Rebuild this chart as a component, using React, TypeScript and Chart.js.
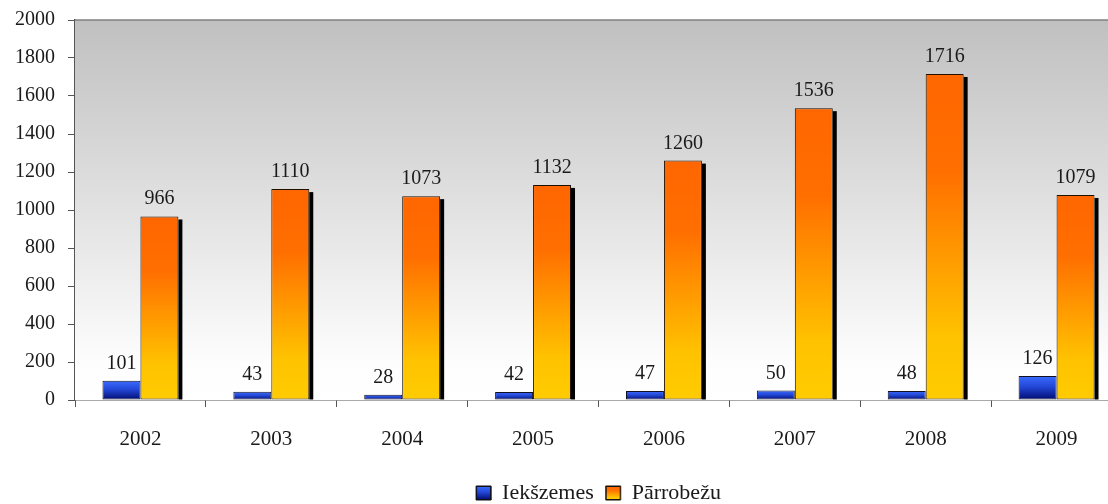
import React, { useEffect, useRef } from "react";
import { Chart, registerables } from "chart.js";

Chart.register(...registerables);

const years = ["2002", "2003", "2004", "2005", "2006", "2007", "2008", "2009"];
const domestic = [101, 43, 28, 42, 47, 50, 48, 126];
const crossBorder = [966, 1110, 1073, 1132, 1260, 1536, 1716, 1079];
const seriesNames = ["Iekšzemes", "Pārrobežu"];
const yTicks = [0, 200, 400, 600, 800, 1000, 1200, 1400, 1600, 1800, 2000];

const FONT = "'Liberation Serif', 'Times New Roman', serif";
const TEXT = "#1a1a1a";
const AXIS = "#555555";

const blueStops: [number, string][] = [
  [0, "#3A6BFF"],
  [0.45, "#2347D6"],
  [1, "#000A6E"],
];
const orangeStops: [number, string][] = [
  [0, "#FF6600"],
  [0.3, "#FF6F00"],
  [0.8, "#FFC200"],
  [1, "#FFCC00"],
];

function makeGrad(ctx: CanvasRenderingContext2D, top: number, bottom: number, stops: [number, string][]) {
  const g = ctx.createLinearGradient(0, top, 0, bottom);
  stops.forEach(([o, c]) => g.addColorStop(o, c));
  return g;
}

function barFill(stops: [number, string][]) {
  return (c: any) => {
    const chart = c.chart;
    if (!chart.chartArea || c.type !== "data") return stops[0][1];
    const y = chart.scales.y;
    const top = y.getPixelForValue(c.raw);
    const bottom = y.getPixelForValue(0);
    return makeGrad(chart.ctx, top, Math.max(bottom, top + 1), stops);
  };
}

const decorPlugin = {
  id: "decor",
  beforeDatasetsDraw(chart: any) {
    const { ctx, chartArea } = chart;
    ctx.save();
    const g = ctx.createLinearGradient(0, chartArea.top, 0, chartArea.bottom);
    g.addColorStop(0, "#C0C0C0");
    g.addColorStop(0.9, "#FDFDFD");
    g.addColorStop(1, "#FFFFFF");
    ctx.fillStyle = g;
    ctx.fillRect(chartArea.left, chartArea.top, chartArea.right - chartArea.left, chartArea.bottom - chartArea.top);
    ctx.strokeStyle = "#808080";
    ctx.lineWidth = 1.5;
    ctx.beginPath();
    ctx.moveTo(chartArea.left, chartArea.top);
    ctx.lineTo(chartArea.right, chartArea.top);
    ctx.stroke();
    const meta = chart.getDatasetMeta(1);
    ctx.fillStyle = "#000000";
    meta.data.forEach((bar: any) => {
      const right = bar.x + bar.width / 2;
      ctx.fillRect(right, bar.y + 3, 4, bar.base - bar.y - 3);
    });
    ctx.restore();
  },
  afterDatasetsDraw(chart: any) {
    const { ctx } = chart;
    ctx.save();
    ctx.font = `20px ${FONT}`;
    ctx.fillStyle = TEXT;
    ctx.textAlign = "center";
    ctx.textBaseline = "alphabetic";
    chart.data.datasets.forEach((ds: any, di: number) => {
      const meta = chart.getDatasetMeta(di);
      meta.data.forEach((bar: any, i: number) => {
        ctx.fillText(String(ds.data[i]), bar.x, bar.y - 12);
      });
    });
    ctx.restore();
  },
  afterDraw(chart: any) {
    const legend = chart.legend;
    if (!legend || !legend.legendHitBoxes) return;
    const { ctx } = chart;
    const bw = legend.options.labels.boxWidth;
    const bh = legend.options.labels.boxHeight;
    ctx.save();
    legend.legendHitBoxes.forEach((hb: any, i: number) => {
      const x = hb.left;
      const y = hb.top + (hb.height - bh) / 2;
      ctx.fillStyle = makeGrad(ctx, y, y + bh, i === 0 ? blueStops : orangeStops);
      ctx.fillRect(x, y, bw, bh);
      ctx.strokeStyle = "#111111";
      ctx.lineWidth = 1;
      ctx.strokeRect(x + 0.5, y + 0.5, bw - 1, bh - 1);
    });
    ctx.restore();
  },
};

export default function App() {
  const ref = useRef<HTMLCanvasElement>(null);
  useEffect(() => {
    if (!ref.current) return;
    Chart.defaults.font.family = FONT;
    const chart = new Chart(ref.current, {
      type: "bar",
      data: {
        labels: years,
        datasets: [
          {
            label: seriesNames[0],
            data: domestic,
            backgroundColor: barFill(blueStops) as any,
            borderColor: "#101020",
            borderWidth: 1,
            borderSkipped: false,
          },
          {
            label: seriesNames[1],
            data: crossBorder,
            backgroundColor: barFill(orangeStops) as any,
            borderColor: "#201000",
            borderWidth: 1,
            borderSkipped: false,
          },
        ],
      },
      options: {
        responsive: false,
        animation: false,
        layout: { padding: { top: 20, left: 0, right: 0, bottom: 0 } },
        datasets: {
          bar: { categoryPercentage: 0.58, barPercentage: 1.0 },
        },
        plugins: {
          legend: {
            position: "bottom",
            fullSize: false,
            maxHeight: 34,
            labels: {
              boxWidth: 15,
              boxHeight: 14,
              padding: 12,
              color: TEXT,
              font: { size: 22, family: FONT },
            },
          },
          tooltip: { enabled: false },
        },
        scales: {
          x: {
            grid: { display: true, drawOnChartArea: false, drawTicks: true, tickLength: 7, color: AXIS, offset: true },
            border: { display: true, color: AXIS, width: 1.5 },
            ticks: { color: TEXT, font: { size: 21 }, padding: 20 },
            afterFit: (s: any) => {
              s.height = 70;
            },
          },
          y: {
            min: 0,
            max: 2000,
            afterBuildTicks: (s: any) => {
              s.ticks = yTicks.map((v) => ({ value: v }));
            },
            grid: { display: true, drawOnChartArea: false, drawTicks: true, tickLength: 7, color: AXIS },
            border: { display: true, color: AXIS, width: 1.5 },
            ticks: { color: TEXT, font: { size: 20 }, padding: 13, callback: (v: any) => String(v) },
            afterFit: (s: any) => {
              s.width = 75;
              s.paddingTop = 0;
              s.paddingBottom = 0;
            },
          },
        },
      },
      plugins: [decorPlugin],
    });
    return () => chart.destroy();
  }, []);
  return (
    <div style={{ position: "absolute", left: 0, top: 0, width: 1108, height: 504, overflow: "hidden", background: "#fff" }}>
      <canvas ref={ref} width={1122} height={504} style={{ display: "block" }} />
    </div>
  );
}
